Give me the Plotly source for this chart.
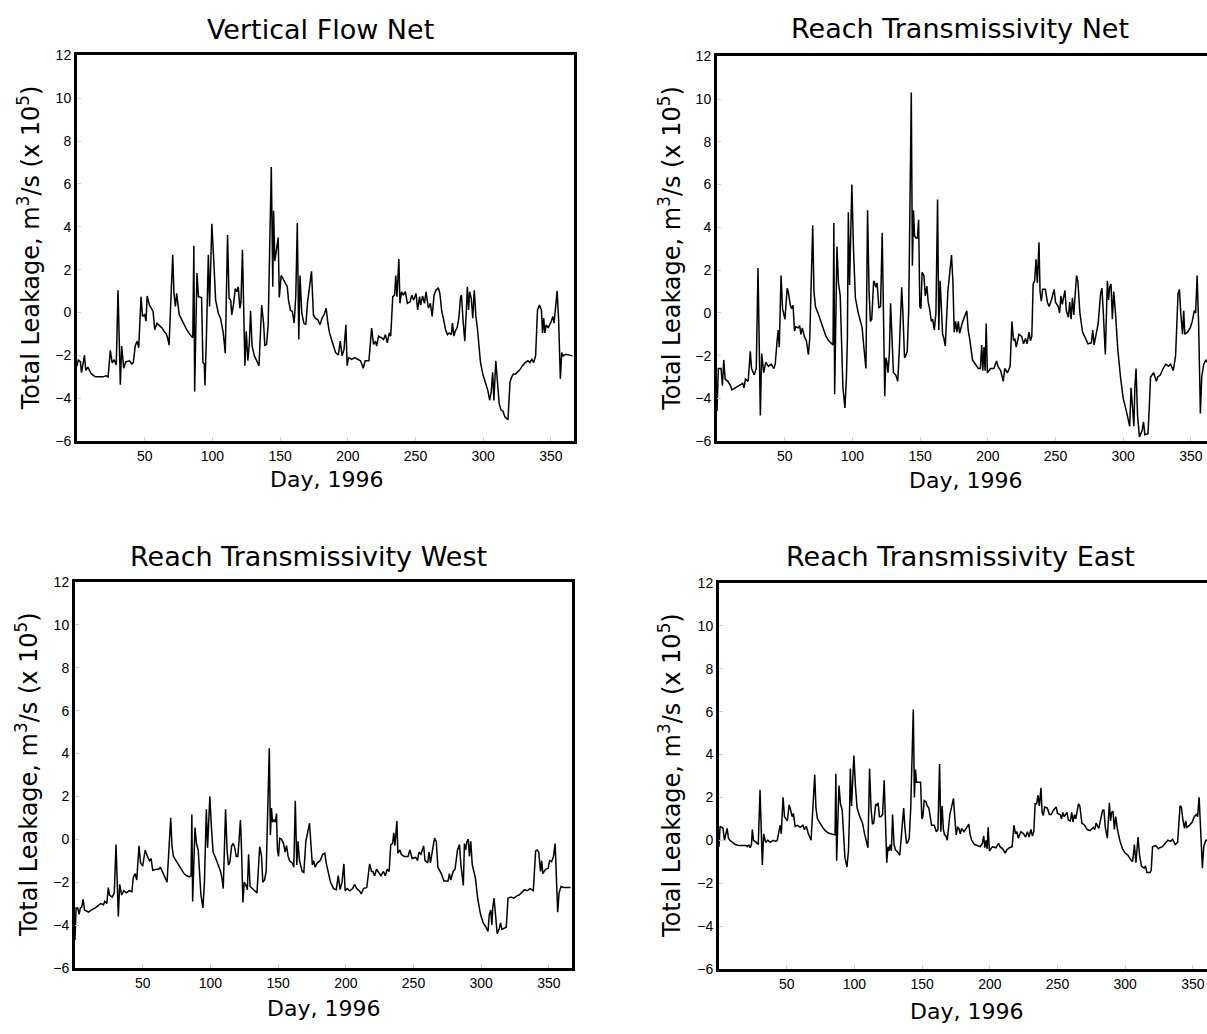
import plotly.graph_objects as go

# ---------------- data (day, total leakage x1e5 m3/s) ----------------
VERTICAL_FLOW_NET = [
(0,-2.5),(1,-2.2),(2.5,-2.3),(3.3,-2.8),(5.5,-2.0),(6.5,-2.7),(8,-2.55),(10.5,-2.85),(13.5,-3.0),(19,-3.0),(21.5,-2.95),(23,-3.0),
(24.6,-1.76),(26,-2.35),(27.5,-2.2),(29,-2.45),(30.3,1.04),(32,-3.37),(33,-1.56),(34.5,-2.6),(36,-2.3),(38.8,-2.25),(40.5,-2.4),
(41.6,-2.33),(43,-1.56),(44.4,-1.33),(45.6,-1.64),(47.3,0.74),(48.4,-0.18),(50,-0.1),(51,-0.41),(51.8,0.77),(53.5,0.35),(55,0.2),
(56.2,0.05),(57.4,-0.8),(59,-0.5),(60.7,-0.6),(62.8,-0.72),(64.3,-0.88),(66,-1.0),(67,-1.2),(68,-1.52),(70.7,2.7),(71.6,0.89),
(72.7,0.28),(73.6,0.9),(75.5,-0.1),(78.4,-0.5),(81,-0.8),(83.5,-1.03),(85.5,-1.18),(86.3,3.11),(86.9,-3.68),(88.6,1.84),(89.7,0.74),
(92,0.7),(93,-2.33),(94,-2.4),(94.5,-3.4),(95.6,-1.1),(97,2.7),(97.9,0.28),(99.6,4.14),(101,2.42),(102.4,0.58),(104.4,-0.03),
(106,-0.26),(108,-0.95),(109.5,-1.9),(111.2,3.62),(112.3,0.66),(113.5,0.58),(114.3,-0.11),(115.7,0.43),(116.9,1.12),(118,0.97),
(119.1,1.2),(120.3,0.2),(121.1,0.5),(122.2,2.93),(123,-0.18),(124,-2.48),(125,-0.87),(126.2,-2.25),(127.3,-1.41),(128.2,0.08),
(129.3,-1.56),(131,-2.02),(132.7,-2.25),(134.4,-2.48),(136.4,0.35),(137.8,-0.49),(138.7,-1.53),(140,-1.49),(141.2,-0.57),
(143.5,6.79),(144.6,1.2),(145.2,4.75),(146.1,2.4),(148.6,3.5),(149.4,0.7),(150.8,1.73),(153.4,1.43),(155.3,1.2),(156.2,0.58),
(157.6,0.12),(159,0.05),(160.4,-0.49),(161.6,0.81),(162.7,4.18),(163.8,-1.26),(164.7,1.73),(166,0.0),(167.5,-0.49),(169,-0.57),
(170.3,0.5),(173.2,1.92),(174.6,-0.1),(176,-0.26),(178,-0.35),(179.4,-0.57),(181,-0.26),(182.5,-0.1),(184,0.2),(185.3,-0.49),
(186.5,-0.95),(188.7,-1.41),(191,-1.87),(193,-1.98),(194.4,-1.33),(195.8,-2.02),(197.2,-1.72),(198.6,-0.57),(199.5,-2.48),
(200.6,-2.1),(202.9,-2.18),(205,-2.1),(207,-2.18),(209.4,-2.25),(211.4,-2.6),(212.8,-2.25),(215.6,-2.25),(217.6,-0.72),(219,-1.49),
(220.4,-1.33),(221.3,-1.56),(222.7,-1.1),(225,-1.18),(226.4,-1.26),(227.8,-1.03),(229.2,-1.41),(230.6,-0.95),(231.7,-1.1),
(233.2,0.74),(234.6,0.81),(235.4,1.73),(236.3,0.74),(237.7,2.5),(238.5,0.43),(239.7,0.97),(241,0.81),(242.5,0.97),(244,0.43),
(246,0.5),(247.3,0.81),(248.7,0.58),(250.4,0.89),(251.6,0.12),(253,0.74),(253.8,0.35),(255.2,0.77),(256.6,0.43),(257.8,0.97),
(259.5,0.2),(261,0.43),(262.3,-0.18),(263.7,0.81),(265.1,1.04),(266.8,1.16),(268,0.89),(269.4,0.05),(270.8,-0.34),(272.2,-0.8),
(273.6,-1.03),(275,-0.95),(276.5,-1.03),(277.3,-0.49),(278.4,-1.1),(279.3,-0.87),(280.7,-0.72),(282,-0.26),(283.3,0.74),(284,0.81),
(285,-0.26),(286.4,-1.33),(287.5,0.05),(288.3,1.2),(289.2,0.12),(290,0.97),(291.2,0.66),(292.3,-0.26),(293.4,1.04),(294.6,-0.18),
(295.7,-0.72),(296.8,-1.56),(298,-2.33),(299.7,-2.87),(301.4,-3.25),(303.4,-3.63),(304.8,-4.09),(305.9,-3.7),(307,-2.79),
(307.9,-4.1),(309.3,-2.25),(310.4,-3.25),(311.8,-4.25),(313.2,-4.55),(314.6,-4.6),(316,-4.86),(317.5,-4.93),(318.3,-5.0),
(319.8,-3.25),(320.9,-3.02),(322.3,-2.87),(324,-2.87),(325.1,-2.79),(327.4,-2.64),(329,-2.48),(331,-2.33),(333,-2.25),
(334.5,-2.33),(335.9,-2.18),(337.3,-2.33),(338.7,-2.02),(340.1,0.12),(341.5,0.35),(343,0.12),(343.8,-0.95),(344.7,-0.26),
(345.5,-0.95),(346.6,-0.57),(348,-0.72),(349.2,-0.57),(350.3,-0.41),(351.4,-0.18),(352.3,-0.49),(353.4,0.2),(354.6,1.01),
(355.7,-0.34),(357,-3.1),(358,-1.87),(359,-2.02),(361,-1.95),(366,-2.02),
]

REACH_T_NET = [
(0,-4.6),(1,-2.6),(3,-2.6),(4,-3.4),(5,-2.2),(6,-3.1),(8,-3.2),(10,-3.4),(11,-3.6),(14,-3.5),(17,-3.4),(19,-3.3),(20,-3.5),
(21,-3.1),(23,-3.2),(24.6,-1.8),(25.5,-2.6),(27.5,-2.9),(29,-2.6),(30.3,2.1),(32,-4.8),(33,-1.9),(34.5,-2.8),(36,-2.3),(38,-2.5),
(40,-2.4),(42,-2.6),(43,-2.4),(44.4,-1.3),(45.2,-0.8),(46,-1.6),(47.3,1.75),(48.4,0.2),(49.3,0.0),(50.2,-0.3),(51.8,1.15),
(52.6,1.0),(54,0.4),(55,0.2),(56.2,0.35),(57.2,-0.85),(58.2,-0.65),(60,-0.7),(61,-0.6),(62,-1.0),(63,-0.7),(64.5,-1.1),(66,-1.3),
(67.5,-1.95),(68.5,-1.2),(70.7,4.1),(71.6,1.0),(72.7,0.3),(74.5,0.0),(76.5,-0.4),(78.5,-0.7),(80.5,-1.1),(82.5,-1.3),(84.5,-1.4),
(85.7,-1.5),(86.3,4.2),(86.9,-3.8),(88.6,3.1),(89.7,1.4),(91,0.8),(93,-3.5),(94.5,-4.45),(95.6,-3.0),(96.3,-1.2),(97,4.7),
(97.9,1.3),(98.9,4.7),(99.6,6.0),(100.8,3.0),(102.2,0.7),(104.3,0.0),(106,-0.5),(107.2,-0.7),(108.3,-1.5),(110,-2.6),(111.2,4.8),
(112.3,1.0),(113.3,-0.4),(114.3,-0.3),(115.7,1.5),(116.5,1.4),(117.3,1.2),(118.3,1.4),(119.5,0.25),(120.8,0.3),(122,3.75),
(122.8,0.5),(123.9,-3.9),(124.7,-2.1),(125.5,-2.3),(126.3,-2.8),(127.3,-1.9),(128.2,0.45),(129.3,-1.6),(130.3,-2.8),(132,-2.9),
(133.5,-3.2),(134.6,-1.8),(136.4,1.2),(137.3,0.0),(138.5,-2.1),(139.4,-2.0),(140.5,-1.8),(141.6,0.2),(143.5,10.3),(144.3,2.2),
(145.1,4.8),(145.9,3.6),(146.9,3.5),(148,3.5),(148.9,4.35),(149.8,0.3),(150.6,0.2),(151.5,1.9),(152.8,1.75),(153.8,0.8),
(155,1.25),(156,0.5),(157,0.2),(158.3,-0.4),(159.3,-0.3),(160.5,-0.8),(161.7,0.0),(162.9,5.3),(163.8,-0.8),(164.8,1.5),
(165.7,0.0),(166.6,-1.0),(167.6,-1.2),(168.6,-1.55),(170.5,1.0),(173.2,2.7),(174.2,1.5),(175.2,-0.9),(176.2,-0.4),(177.2,-0.9),
(178.2,-0.4),(179.2,-0.95),(181,-0.5),(183,-0.1),(184.5,0.1),(185.5,-0.8),(186.6,-1.2),(188.7,-2.2),(191,-2.4),(193,-2.6),
(194.5,-2.6),(195.5,-1.5),(196.3,-2.7),(197.2,-1.6),(198,-2.7),(198.8,-0.5),(199.7,-2.8),(202,-2.6),(204.5,-2.6),(206.5,-2.25),
(207.5,-2.5),(209.5,-2.7),(211.4,-3.2),(212.5,-2.6),(214.5,-2.8),(216.5,-2.5),(217.8,-0.4),(219,-1.3),(220,-1.2),(221,-1.6),
(223,-1.0),(225,-1.1),(226.4,-1.45),(227.8,-1.2),(229,-1.45),(230.4,-0.9),(231.5,-1.3),(232.5,-1.1),(233.5,1.35),(234.6,1.5),
(235.6,2.5),(236.6,1.4),(237.8,3.3),(238.6,1.0),(239.5,0.55),(240.5,1.1),(242.5,1.1),(244,0.5),(245.3,0.3),(247,0.6),(249,1.1),
(250,0.5),(252,0.3),(253,0.0),(254,0.8),(255,0.4),(257,1.05),(258,0.1),(259.5,-0.2),(260.5,0.5),(261.5,-0.3),(262.5,0.7),
(263.5,-0.1),(265.5,1.75),(266.5,1.5),(268,0.0),(270,-0.9),(272,-1.2),(274,-1.45),(276.5,-1.4),(277.5,-0.8),(278.5,-1.5),
(280.5,-0.8),(281.5,-0.5),(283.3,0.9),(284.3,1.15),(285.3,0.0),(286.8,-1.95),(288.3,1.5),(289.2,0.6),(290,1.2),(291,1.35),
(292,-0.3),(293,1.0),(294.3,0.0),(296,-1.7),(298,-3.0),(300,-4.0),(302,-4.5),(304.8,-5.3),(305.8,-3.5),(307.9,-5.3),(308.6,-3.5),
(309.5,-2.6),(310.6,-4.8),(312,-5.8),(314,-5.5),(315,-5.1),(316,-5.7),(318.3,-5.65),(319.2,-4.5),(320.2,-3.0),(322.5,-2.8),
(324.5,-3.2),(325.5,-3.0),(327.5,-2.9),(329.5,-2.6),(331.5,-2.4),(333.5,-2.5),(335,-2.4),(337,-2.7),(338.7,-2.0),(340.5,0.9),
(341.5,1.1),(342.5,0.0),(343.8,-1.0),(344.7,0.1),(345.5,-1.0),(347.5,-0.9),(349.5,-0.7),(351,-0.4),(352.5,0.1),(353.5,0.0),
(354.6,1.75),(355.7,-0.5),(357,-4.7),(358,-3.0),(359.5,-2.4),(361,-2.2),(363,-2.4),(366,-2.4),
]

REACH_T_WEST = [
(0,-4.7),(0.8,-3.2),(2,-3.2),(3,-3.5),(4,-3.2),(5,-3.15),(6,-2.8),(7,-3.3),(10,-3.4),(12,-3.3),(15,-3.2),(19,-3.0),(21,-3.05),
(22,-2.9),(23.5,-3.0),(24.6,-2.25),(25.5,-2.6),(27.5,-2.7),(29,-2.5),(30.3,-0.25),(32,-3.6),(33,-2.1),(34.5,-2.6),(36,-2.4),
(38,-2.5),(40,-2.4),(42,-2.45),(43,-1.8),(44.4,-1.6),(45.6,-1.9),(47.3,-0.3),(48.4,-1.1),(50,-1.25),(51.8,-0.5),(53.5,-0.8),
(55,-1.0),(56.2,-0.9),(57.4,-1.45),(60,-1.4),(62,-1.4),(63,-1.3),(65,-1.6),(67,-1.9),(68,-2.0),(70.7,1.0),(71.6,-0.3),(72.7,-0.8),
(74.5,-1.0),(76.5,-1.2),(78.5,-1.4),(80.5,-1.6),(82.5,-1.7),(84.5,-1.75),(85.7,-1.7),(86.3,1.15),(86.9,-2.9),(88.6,0.55),
(89.7,-0.2),(91,-0.5),(93,-2.6),(94.5,-3.2),(95.6,-2.0),(97,1.4),(97.9,-0.4),(99.6,2.0),(100.8,0.5),(102,-0.6),(104,-0.9),
(106,-1.2),(107.5,-1.5),(108.5,-1.8),(109.5,-2.3),(111.2,1.4),(112.3,-0.5),(113.3,-1.2),(114.3,-1.1),(115.7,-0.3),(116.9,-0.2),
(118,-0.4),(119.1,-0.8),(120.3,-0.8),(122.2,0.9),(123,-0.5),(124,-2.95),(125,-2.0),(126.3,-2.15),(127.3,-2.35),(128.2,-0.7),
(129.3,-2.2),(131,-2.3),(132.7,-2.4),(134.4,-2.5),(136.4,-0.35),(137.8,-0.8),(138.7,-2.0),(140,-1.9),(141.2,-1.5),(143.5,4.25),
(144.3,0.2),(145.1,1.45),(145.9,0.8),(146.9,0.9),(148,0.8),(148.8,1.2),(149.5,-0.5),(150.3,-0.8),(151.2,0.05),(152.5,0.0),
(154,-0.2),(155.2,-0.6),(156.2,-0.3),(157.4,-0.8),(158.5,-1.0),(160.4,-1.1),(161.6,-1.3),(162.7,1.8),(163.8,-1.2),(164.7,-0.1),
(165.8,-1.0),(166.8,-1.3),(167.8,-1.5),(169,-1.55),(170.5,-0.1),(173.2,0.75),(174.3,-0.2),(175.3,-1.2),(176.3,-1.0),(177.3,-1.3),
(179,-1.1),(181,-1.0),(183,-0.7),(184.5,-0.65),(185.5,-1.1),(186.6,-1.4),(188.7,-2.0),(191,-2.3),(193,-2.35),(194.4,-1.7),
(195.8,-2.35),(197.2,-2.0),(198.6,-1.15),(199.5,-2.4),(201,-2.3),(203,-2.4),(205,-2.3),(206.5,-2.1),(208,-2.3),(210,-2.4),
(211.4,-2.55),(213,-2.3),(215.5,-2.25),(217.6,-1.15),(219,-1.5),(220,-1.5),(221.3,-1.7),(222.7,-1.4),(224.5,-1.55),(226,-1.7),
(227.8,-1.5),(229.2,-1.7),(230.6,-1.4),(232,-1.5),(233.2,-0.25),(234.6,-0.2),(235.4,0.3),(236.3,-0.3),(237.7,0.85),(238.5,-0.65),
(240,-0.5),(241,-0.7),(243,-0.8),(246,-0.8),(247.3,-0.5),(249,-0.9),(251.6,-0.85),(253,-1.0),(254,-0.6),(255.5,-0.7),(257.5,-0.3),
(258.5,-1.0),(260.5,-1.1),(261.5,-0.6),(262.5,-1.1),(265.5,0.05),(266.8,-0.1),(268,-1.3),(270.5,-1.6),(272.5,-1.95),(275.5,-1.95),
(276.5,-1.6),(277.5,-1.9),(279.3,-1.5),(280.7,-1.4),(282.5,-0.5),(284,-0.25),(285,-1.2),(286.8,-2.15),(287.6,-0.2),(288.5,-0.5),
(289.5,-0.1),(290.5,0.0),(291.3,-0.8),(292.3,-0.1),(293.4,-1.2),(295.7,-1.8),(297.5,-2.8),(299.5,-3.5),(301.5,-3.9),(303.5,-4.1),
(305,-4.3),(306,-3.5),(307,-3.3),(307.9,-4.0),(308.5,-3.2),(309.5,-2.75),(310.5,-3.5),(311.8,-4.4),(313.2,-4.2),(314.3,-3.9),
(315.3,-4.2),(317,-4.15),(318.5,-4.1),(319.8,-2.75),(322,-2.7),(324,-2.75),(326,-2.65),(328,-2.6),(330,-2.45),(332,-2.35),
(334,-2.4),(336,-2.3),(338.5,-2.4),(340.2,-0.55),(341.5,-0.5),(342.5,-0.6),(343.8,-1.5),(344.7,-1.0),(345.5,-1.6),(347.5,-1.4),
(349.5,-1.35),(350.5,-1.0),(352,-1.05),(353.4,-0.8),(354.6,-0.2),(356.5,-3.4),(357.5,-2.5),(359,-2.2),(361,-2.25),(366,-2.25),
]

REACH_T_EAST = [
(0,-0.3),(0.8,0.65),(2,0.6),(3,0.55),(4,0.0),(5,0.25),(6,0.55),(7,0.1),(8,0.0),(10,-0.1),(12,-0.2),(15,-0.25),(18,-0.25),
(20,-0.25),(21,-0.3),(22,-0.2),(23,-0.35),(24,-0.2),(24.6,0.5),(25.5,0.0),(27.5,-0.1),(29,-0.2),(30.3,2.35),(32,-1.15),(33,0.3),
(34.5,-0.1),(36,0.0),(38,-0.1),(40,0.0),(42,-0.05),(43,0.0),(44.4,0.5),(45.2,0.7),(46,0.3),(47.3,2.0),(48.4,1.1),(49.3,1.0),
(50.5,0.9),(51.8,1.65),(52.6,1.5),(54,1.1),(55,1.25),(56.2,0.65),(58,0.7),(60,0.6),(62,0.7),(63,0.5),(64.5,0.65),(66,0.3),
(68,0.0),(70.7,3.05),(71.6,1.5),(72.7,1.0),(74.5,0.8),(76.5,0.6),(78.5,0.45),(80.5,0.35),(82.5,0.3),(84.5,0.25),(85.7,0.25),
(86.3,3.1),(86.9,-0.95),(88.6,2.55),(89.7,1.7),(91,1.4),(93,-0.8),(94.5,-1.25),(95.6,-0.5),(96.3,1.0),(97,3.35),(97.9,1.6),
(99.6,3.95),(100.8,2.5),(102,1.5),(104,1.1),(106,0.8),(107.5,0.3),(108.5,0.0),(110,-0.35),(111.2,3.35),(112.3,1.5),(113.3,0.75),
(114.3,0.8),(115.7,1.7),(116.5,1.6),(117.5,1.75),(118.5,1.1),(119.5,1.1),(120.8,1.2),(122,2.8),(122.8,1.2),(123.9,-1.05),
(124.8,-0.3),(125.6,-0.5),(126.4,-0.2),(127.3,-0.5),(128.2,1.2),(129.3,-0.2),(130.3,-0.45),(132,-0.55),(133.5,-0.7),(134.6,0.2),
(136.4,1.5),(137.3,0.6),(138.5,-0.15),(139.4,-0.1),(140.5,0.1),(141.6,1.5),(143.5,6.1),(144.3,2.0),(145.1,3.3),(145.9,2.7),
(146.9,2.7),(148,2.7),(148.9,2.7),(149.8,1.0),(150.6,1.1),(151.5,1.85),(152.8,1.8),(153.8,1.6),(155,1.5),(156,1.1),(157,0.7),
(159,0.7),(160.5,0.4),(161.7,0.5),(162.9,3.55),(163.8,0.4),(164.8,1.6),(165.7,0.5),(166.6,0.25),(167.6,0.2),(168.6,0.0),
(170.5,1.2),(173.2,1.95),(174.2,1.0),(175.2,0.25),(176.2,0.6),(177.2,0.55),(178.2,0.3),(179.2,0.55),(181,0.4),(183,0.6),
(184.5,0.75),(185.5,0.25),(186.6,0.0),(188.7,-0.2),(191,-0.25),(193,-0.3),(194.5,-0.15),(195.5,0.2),(196.3,-0.35),(197.2,0.0),
(198,-0.4),(198.8,0.6),(199.7,-0.5),(202,-0.3),(204.5,-0.35),(206.5,-0.15),(207.5,-0.3),(209.5,-0.4),(211.4,-0.6),(212.5,-0.45),
(214.5,-0.35),(216.5,-0.3),(217.8,0.7),(219,0.3),(220,0.4),(221,0.1),(223,0.4),(225,0.3),(226.4,0.15),(227.8,0.4),(229,0.15),
(230.4,0.5),(231.5,0.2),(232.5,0.4),(233.5,1.7),(234.6,1.7),(235.6,2.1),(236.6,1.6),(237.8,2.45),(238.6,1.3),(239.5,1.15),
(240.5,1.55),(242.5,1.5),(244,1.2),(245.3,1.2),(247,1.4),(249,1.55),(250,1.25),(252,1.2),(253,1.0),(254,1.3),(255,1.1),(257,1.3),
(258,0.95),(259.5,0.9),(260.5,1.3),(261.5,0.85),(262.5,1.2),(263.5,1.0),(265.5,1.7),(266.5,1.6),(268,0.8),(270,0.7),(272,0.5),
(274,0.45),(276.5,0.6),(277.5,0.5),(278.5,0.8),(280.5,0.55),(281.5,0.9),(283.3,1.4),(284.3,1.4),(285.3,0.6),(286.8,0.1),
(288.3,1.75),(289.2,0.9),(290,1.3),(291,1.35),(292,0.5),(293,1.1),(294.3,0.5),(296,0.0),(298,-0.4),(300,-0.6),(302,-0.7),
(304,-0.9),(305.5,-1.0),(306.8,-0.2),(307.9,-1.05),(309.5,0.15),(310.6,-0.7),(312,-1.2),(314,-1.3),(315,-1.2),(316,-1.5),
(318.3,-1.5),(319.2,-1.4),(320.2,-0.3),(322.5,-0.25),(324.5,-0.4),(325.5,-0.35),(327.5,-0.3),(329.5,-0.15),(331.5,0.0),
(333.5,-0.05),(335,0.05),(337,-0.2),(338.7,-0.1),(340.5,1.6),(341.5,1.55),(342.5,1.0),(343.8,0.55),(344.7,0.9),(345.5,0.6),
(347.5,0.7),(349.5,0.85),(351,1.1),(352.5,1.2),(353.5,1.1),(354.6,2.0),(355.7,0.5),(357,-1.3),(358,-0.3),(359.5,0.0),(361,0.0),
(366,0.0),
]

TITLES = ["Vertical Flow Net", "Reach Transmissivity Net", "Reach Transmissivity West", "Reach Transmissivity East"]
SERIES = [VERTICAL_FLOW_NET, REACH_T_NET, REACH_T_WEST, REACH_T_EAST]
X_TICKS = [50, 100, 150, 200, 250, 300, 350]
Y_TICKS = [-6, -4, -2, 0, 2, 4, 6, 8, 10, 12]
X_TITLE = "Day, 1996"
Y_TITLE = "Total Leakage, m<sup>3</sup>/s (x 10<sup>5</sup>)"

# ---------------- layout (pixel geometry) ----------------
W, H = 1207, 1034
PX_PER_DAY = 1.354
# left, right, top, bottom of plot areas (px), right-panel flag
BOXES = [
    (77, 574, 48, 440, False),
    (717, 1207, 49, 440, True),
    (75, 572, 583, 975, False),
    (719, 1207, 584, 976, True),
]
TITLE_POS = [(320, 22), (960, 21), (309, 557), (960, 557)]
XTITLE_POS = [(326, 479), (965, 480), (323, 1016), (967, 1019)]
YTITLE_X = [29, 670, 27, 670]

fig = go.Figure()
TICKFONT = dict(family="Liberation Sans, Arial, sans-serif", size=14, color="black")
TXTFONT = "DejaVu Sans, sans-serif"

for i, (series, (l, r, t, b, right_panel)) in enumerate(zip(SERIES, BOXES)):
    n = i + 1
    days = [p[0] for p in series]
    vals = [p[1] for p in series]
    xa = "x" if n == 1 else f"x{n}"
    ya = "y" if n == 1 else f"y{n}"
    fig.add_trace(go.Scatter(x=days, y=vals, mode="lines", xaxis=xa, yaxis=ya,
                             line=dict(color="black", width=1.5), showlegend=False,
                             hoverinfo="skip"))
    xmax = (r - l) / PX_PER_DAY
    common = dict(showline=True, linecolor="black", linewidth=3, ticks="inside",
                  ticklen=4, tickwidth=1, tickcolor="#d0d0d0", showgrid=False,
                  zeroline=False, tickfont=TICKFONT, fixedrange=True)
    fig.layout[f"xaxis{'' if n == 1 else n}"] = dict(
        domain=[l / W, r / W], range=[0, xmax], anchor=ya, tickvals=X_TICKS,
        mirror=True, **common)
    fig.layout[f"yaxis{'' if n == 1 else n}"] = dict(
        domain=[1 - b / H, 1 - t / H], range=[-6, 12], anchor=xa, tickvals=Y_TICKS,
        mirror=not right_panel, **common)

    tx, ty = TITLE_POS[i]
    fig.add_annotation(text=TITLES[i], x=tx / W, y=1 - ty / H, xref="paper", yref="paper",
                       showarrow=False, xanchor="center", yanchor="middle",
                       font=dict(family=TXTFONT, size=27, color="black"))
    dx, dy = XTITLE_POS[i]
    fig.add_annotation(text=X_TITLE, x=dx / W, y=1 - dy / H, xref="paper", yref="paper",
                       showarrow=False, xanchor="center", yanchor="middle",
                       font=dict(family=TXTFONT, size=22, color="black"))
    fig.add_annotation(text=Y_TITLE, x=YTITLE_X[i] / W, y=1 - ((t + b) / 2) / H,
                       xref="paper", yref="paper", showarrow=False, textangle=-90,
                       xanchor="center", yanchor="middle",
                       font=dict(family=TXTFONT, size=24, color="black"))

fig.update_layout(width=W, height=H, margin=dict(l=0, r=0, t=0, b=0),
                  paper_bgcolor="white", plot_bgcolor="white")

fig.write_html("out.html", config={"displayModeBar": False})
